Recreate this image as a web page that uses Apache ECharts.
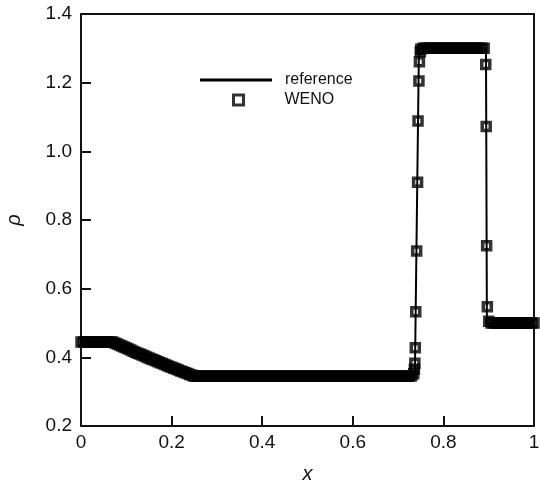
<!DOCTYPE html>
<html>
<head>
<meta charset="utf-8">
<script src="https://cdn.jsdelivr.net/npm/echarts@6/dist/echarts.min.js"></script>
<style>
html,body{margin:0;padding:0;background:#fff;}
#main{width:540px;height:482px;}
</style>
</head>
<body>
<div id="main"></div>
<script>
// reference solution (solid line)
var refX = [0, 0.07, 0.09, 0.11, 0.13, 0.15, 0.17, 0.19, 0.21, 0.23, 0.25, 0.737, 0.746, 0.894, 0.896, 1.0];
var refY = [0.445, 0.445, 0.433, 0.421, 0.410, 0.398, 0.387, 0.376, 0.366, 0.355, 0.345, 0.345, 1.30, 1.30, 0.50, 0.50];

// WENO solution (open squares)
var wenoX = [
  0, 0.005, 0.01, 0.015, 0.02, 0.025, 0.03, 0.035, 0.04, 0.045, 0.05, 0.055, 0.06, 0.065,
  0.07, 0.075, 0.08, 0.085, 0.09, 0.095, 0.1, 0.105, 0.11, 0.115, 0.12, 0.125, 0.13, 0.135, 0.14, 0.145,
  0.15, 0.155, 0.16, 0.165, 0.17, 0.175, 0.18, 0.185, 0.19, 0.195, 0.2, 0.205, 0.21, 0.215, 0.22, 0.225,
  0.23, 0.235, 0.24, 0.245, 0.25,
  0.255, 0.26, 0.265, 0.27, 0.275, 0.28, 0.285, 0.29, 0.295, 0.3,
  0.305, 0.31, 0.315, 0.32, 0.325, 0.33, 0.335, 0.34, 0.345, 0.35, 0.355, 0.36, 0.365, 0.37, 0.375, 0.38, 0.385, 0.39, 0.395, 0.4,
  0.405, 0.41, 0.415, 0.42, 0.425, 0.43, 0.435, 0.44, 0.445, 0.45, 0.455, 0.46, 0.465, 0.47, 0.475, 0.48, 0.485, 0.49, 0.495, 0.5,
  0.505, 0.51, 0.515, 0.52, 0.525, 0.53, 0.535, 0.54, 0.545, 0.55, 0.555, 0.56, 0.565, 0.57, 0.575, 0.58, 0.585, 0.59, 0.595, 0.6,
  0.605, 0.61, 0.615, 0.62, 0.625, 0.63, 0.635, 0.64, 0.645, 0.65, 0.655, 0.66, 0.665, 0.67, 0.675, 0.68, 0.685, 0.69, 0.695, 0.7,
  0.705, 0.71, 0.715, 0.72, 0.725, 0.73,
  0.7345, 0.736, 0.737, 0.738, 0.739, 0.741, 0.743, 0.744, 0.746, 0.747, 0.749,
  0.75, 0.755, 0.76, 0.765, 0.77, 0.775, 0.78, 0.785, 0.79, 0.795, 0.8, 0.805, 0.81, 0.815, 0.82, 0.825,
  0.83, 0.835, 0.84, 0.845, 0.85, 0.855, 0.86, 0.865, 0.87, 0.875, 0.88, 0.885, 0.89,
  0.8935, 0.8945, 0.8955, 0.897,
  0.9, 0.905, 0.91, 0.915, 0.92, 0.925, 0.93, 0.935, 0.94, 0.945, 0.95, 0.955, 0.96, 0.965, 0.97, 0.975,
  0.98, 0.985, 0.99, 0.995, 1.0
];
var wenoY = [
  0.445, 0.445, 0.445, 0.445, 0.445, 0.445, 0.445, 0.445, 0.445, 0.445, 0.445, 0.445, 0.445, 0.445,
  0.445, 0.442, 0.439, 0.436, 0.433, 0.430, 0.427, 0.424, 0.421, 0.418, 0.415, 0.412, 0.410, 0.407, 0.404, 0.401,
  0.398, 0.395, 0.393, 0.390, 0.387, 0.384, 0.382, 0.379, 0.376, 0.373, 0.371, 0.368, 0.366, 0.363, 0.360, 0.358,
  0.355, 0.353, 0.350, 0.348, 0.345,
  0.345, 0.345, 0.345, 0.345, 0.345, 0.345, 0.345, 0.345, 0.345, 0.345,
  0.345, 0.345, 0.345, 0.345, 0.345, 0.345, 0.345, 0.345, 0.345, 0.345, 0.345, 0.345, 0.345, 0.345, 0.345, 0.345, 0.345, 0.345, 0.345, 0.345,
  0.345, 0.345, 0.345, 0.345, 0.345, 0.345, 0.345, 0.345, 0.345, 0.345, 0.345, 0.345, 0.345, 0.345, 0.345, 0.345, 0.345, 0.345, 0.345, 0.345,
  0.345, 0.345, 0.345, 0.345, 0.345, 0.345, 0.345, 0.345, 0.345, 0.345, 0.345, 0.345, 0.345, 0.345, 0.345, 0.345, 0.345, 0.345, 0.345, 0.345,
  0.345, 0.345, 0.345, 0.345, 0.345, 0.345, 0.345, 0.345, 0.345, 0.345, 0.345, 0.345, 0.345, 0.345, 0.345, 0.345, 0.345, 0.345, 0.345, 0.345,
  0.345, 0.345, 0.345, 0.345, 0.345, 0.346,
  0.352, 0.365, 0.383, 0.428, 0.533, 0.71, 0.91, 1.088, 1.205, 1.261, 1.29,
  1.297, 1.30, 1.30, 1.30, 1.30, 1.30, 1.30, 1.30, 1.30, 1.30, 1.30, 1.30, 1.30, 1.30, 1.30, 1.30,
  1.30, 1.30, 1.30, 1.30, 1.30, 1.30, 1.30, 1.30, 1.30, 1.30, 1.30, 1.30, 1.30,
  1.253, 1.072, 0.725, 0.547,
  0.505, 0.50, 0.50, 0.50, 0.50, 0.50, 0.50, 0.50, 0.50, 0.50, 0.50, 0.50, 0.50, 0.50, 0.50, 0.50,
  0.50, 0.50, 0.50, 0.50, 0.50
];

var xTicks = [0, 0.2, 0.4, 0.6, 0.8, 1];
var yTicks = [0.2, 0.4, 0.6, 0.8, 1.0, 1.2, 1.4];

var font = 'Liberation Sans, Arial, sans-serif';
var ink = '#111';

function pairs(xs, ys) {
  var out = [];
  for (var i = 0; i < xs.length; i++) out.push([xs[i], ys[i]]);
  return out;
}

var frameLine = { show: true, onZero: false, lineStyle: { color: ink, width: 2 } };
var tick = { show: true, inside: true, length: 10, lineStyle: { color: ink, width: 2 } };

var myChart = echarts.init(document.getElementById('main'));
var option = {
  animation: false,
  backgroundColor: '#fff',
  textStyle: { fontFamily: font },
  grid: {
    left: 81, right: 6, top: 14, bottom: 56,
    containLabel: false,
    outerBoundsMode: 'none'
  },
  legend: [
    {
      data: [{ name: 'reference', icon: 'rect' }],
      left: 200, top: 72,
      padding: 0,
      itemWidth: 72, itemHeight: 3,
      lineStyle: { width: 3, color: '#000' },
      itemStyle: { color: '#000', borderWidth: 0 },
      textStyle: { fontSize: 16, color: ink, fontFamily: font, padding: [0, 0, 0, 8] },
      selectedMode: false
    },
    {
      data: ['WENO'],
      left: 232, top: 92,
      padding: 0,
      itemWidth: 10, itemHeight: 10,
      itemStyle: { color: 'transparent', borderColor: '#000', borderWidth: 3 },
      textStyle: { fontSize: 16, color: ink, fontFamily: font, padding: [0, 0, 0, 36] },
      selectedMode: false
    }
  ],
  xAxis: [
    {
      type: 'value',
      position: 'bottom',
      min: xTicks[0], max: xTicks[xTicks.length - 1], interval: 0.2,
      name: 'x',
      nameLocation: 'middle',
      nameGap: 38,
      nameTextStyle: { fontSize: 20, fontStyle: 'italic', color: ink, fontFamily: font },
      axisLine: frameLine,
      axisTick: tick,
      axisLabel: {
        fontSize: 19, color: ink, margin: 7, fontFamily: font,
        showMinLabel: true, showMaxLabel: true,
        formatter: function (v) { return String(+v.toFixed(1)); }
      },
      splitLine: { show: false }
    },
    {
      type: 'value',
      position: 'top',
      min: xTicks[0], max: xTicks[xTicks.length - 1], interval: 0.2,
      axisLine: frameLine,
      axisTick: { show: false },
      axisLabel: { show: false },
      splitLine: { show: false }
    }
  ],
  yAxis: [
    {
      type: 'value',
      position: 'left',
      min: yTicks[0], max: yTicks[yTicks.length - 1], interval: 0.2,
      name: 'ρ',
      nameLocation: 'middle',
      nameGap: 57,
      nameRotate: 90,
      nameTextStyle: { fontSize: 20, fontStyle: 'italic', color: ink, fontFamily: font },
      axisLine: frameLine,
      axisTick: tick,
      axisLabel: {
        fontSize: 19, color: ink, margin: 9, fontFamily: font,
        showMinLabel: true, showMaxLabel: true,
        formatter: function (v) { return v.toFixed(1); }
      },
      splitLine: { show: false }
    },
    {
      type: 'value',
      position: 'right',
      min: yTicks[0], max: yTicks[yTicks.length - 1], interval: 0.2,
      axisLine: frameLine,
      axisTick: { show: false },
      axisLabel: { show: false },
      splitLine: { show: false }
    }
  ],
  series: [
    {
      name: 'WENO',
      type: 'scatter',
      symbol: 'rect',
      symbolSize: 8,
      itemStyle: { color: 'transparent', borderColor: '#000', borderWidth: 3.5 },
      data: pairs(wenoX, wenoY),
      z: 2
    },
    {
      name: 'reference',
      type: 'line',
      symbol: 'none',
      itemStyle: { color: '#000' },
      lineStyle: { color: '#000', width: 2 },
      data: pairs(refX, refY),
      z: 3
    }
  ]
};
myChart.setOption(option);
</script>
</body>
</html>
